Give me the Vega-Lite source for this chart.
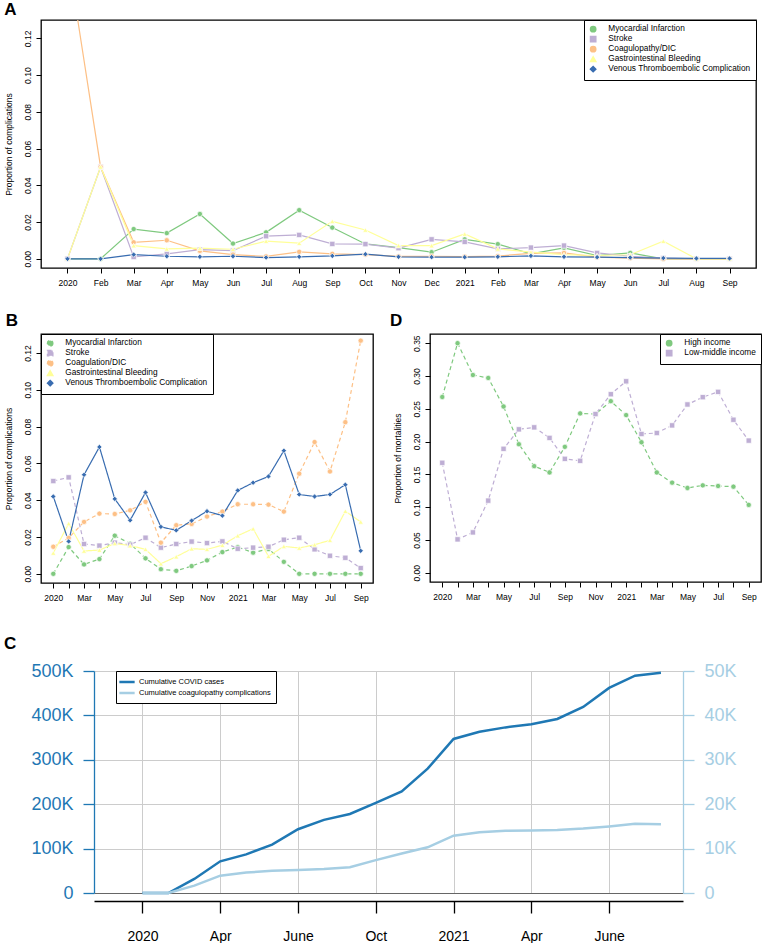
{
  "$schema": "https://vega.github.io/schema/vega-lite/v6.json",
  "background": "white",
  "padding": {"left": 3, "top": -1, "right": 0, "bottom": 0},
  "bounds": "flush",
  "align": "none",
  "spacing": 651,
  "resolve": {"scale": {"color": "independent", "shape": "independent", "strokeDash": "independent"}, "legend": {"color": "independent", "shape": "independent", "strokeDash": "independent"}},
  "config": {
    "font": "Liberation Sans",
    "axis": {"labelFont": "Liberation Sans", "titleFont": "Liberation Sans", "labelColor": "black", "titleColor": "black", "tickColor": "black", "titleFontWeight": "normal", "labelFlush": false, "labelOverlap": false},
    "legend": {"labelFont": "Liberation Sans", "labelColor": "black"},
    "title": {"font": "Liberation Sans", "color": "black", "fontWeight": "bold", "fontSize": 17, "anchor": "start", "frame": "group", "baseline": "alphabetic"}
  },
  "datasets": {
    "monthlyA": [
      {"m": 0, "Myocardial Infarction": 0, "Stroke": 0, "Coagulopathy/DIC": 0.166, "Gastrointestinal Bleeding": 0, "Venous Thromboembolic Complication": 0},
      {"m": 1, "Myocardial Infarction": 0, "Stroke": 0.05, "Coagulopathy/DIC": 0.05, "Gastrointestinal Bleeding": 0.05, "Venous Thromboembolic Complication": 0},
      {"m": 2, "Myocardial Infarction": 0.0162, "Stroke": 0.001, "Coagulopathy/DIC": 0.009, "Gastrointestinal Bleeding": 0.0072, "Venous Thromboembolic Complication": 0.0023},
      {"m": 3, "Myocardial Infarction": 0.014, "Stroke": 0.0027, "Coagulopathy/DIC": 0.0101, "Gastrointestinal Bleeding": 0.0054, "Venous Thromboembolic Complication": 0.0014},
      {"m": 4, "Myocardial Infarction": 0.0244, "Stroke": 0.005, "Coagulopathy/DIC": 0.0043, "Gastrointestinal Bleeding": 0.0058, "Venous Thromboembolic Complication": 0.0011},
      {"m": 5, "Myocardial Infarction": 0.0083, "Stroke": 0.0045, "Coagulopathy/DIC": 0.0023, "Gastrointestinal Bleeding": 0.0052, "Venous Thromboembolic Complication": 0.0014},
      {"m": 6, "Myocardial Infarction": 0.0144, "Stroke": 0.0123, "Coagulopathy/DIC": 0.0013, "Gastrointestinal Bleeding": 0.0096, "Venous Thromboembolic Complication": 0.0007},
      {"m": 7, "Myocardial Infarction": 0.0265, "Stroke": 0.013, "Coagulopathy/DIC": 0.0038, "Gastrointestinal Bleeding": 0.0085, "Venous Thromboembolic Complication": 0.0011},
      {"m": 8, "Myocardial Infarction": 0.017, "Stroke": 0.0081, "Coagulopathy/DIC": 0.0027, "Gastrointestinal Bleeding": 0.0204, "Venous Thromboembolic Complication": 0.0016},
      {"m": 9, "Myocardial Infarction": 0.0081, "Stroke": 0.008, "Coagulopathy/DIC": 0.0023, "Gastrointestinal Bleeding": 0.0157, "Venous Thromboembolic Complication": 0.0025},
      {"m": 10, "Myocardial Infarction": 0.0061, "Stroke": 0.0058, "Coagulopathy/DIC": 0.0013, "Gastrointestinal Bleeding": 0.0072, "Venous Thromboembolic Complication": 0.0011},
      {"m": 11, "Myocardial Infarction": 0.0036, "Stroke": 0.0106, "Coagulopathy/DIC": 0.0014, "Gastrointestinal Bleeding": 0.0072, "Venous Thromboembolic Complication": 0.0009},
      {"m": 12, "Myocardial Infarction": 0.0106, "Stroke": 0.0092, "Coagulopathy/DIC": 0.0012, "Gastrointestinal Bleeding": 0.0135, "Venous Thromboembolic Complication": 0.0009},
      {"m": 13, "Myocardial Infarction": 0.008, "Stroke": 0.0054, "Coagulopathy/DIC": 0.0015, "Gastrointestinal Bleeding": 0.0054, "Venous Thromboembolic Complication": 0.0011},
      {"m": 14, "Myocardial Infarction": 0.0027, "Stroke": 0.0061, "Coagulopathy/DIC": 0.003, "Gastrointestinal Bleeding": 0.0036, "Venous Thromboembolic Complication": 0.0016},
      {"m": 15, "Myocardial Infarction": 0.006, "Stroke": 0.0072, "Coagulopathy/DIC": 0.0032, "Gastrointestinal Bleeding": 0.0023, "Venous Thromboembolic Complication": 0.0011},
      {"m": 16, "Myocardial Infarction": 0.0018, "Stroke": 0.0032, "Coagulopathy/DIC": 0.0009, "Gastrointestinal Bleeding": 0.0018, "Venous Thromboembolic Complication": 0.0009},
      {"m": 17, "Myocardial Infarction": 0.0032, "Stroke": 0.0014, "Coagulopathy/DIC": 0.0004, "Gastrointestinal Bleeding": 0.0022, "Venous Thromboembolic Complication": 0.0007},
      {"m": 18, "Myocardial Infarction": 0, "Stroke": 0.0004, "Coagulopathy/DIC": 0, "Gastrointestinal Bleeding": 0.0096, "Venous Thromboembolic Complication": 0.0004},
      {"m": 19, "Myocardial Infarction": 0, "Stroke": 0, "Coagulopathy/DIC": 0, "Gastrointestinal Bleeding": 0, "Venous Thromboembolic Complication": 0.0002},
      {"m": 20, "Myocardial Infarction": 0, "Stroke": 0, "Coagulopathy/DIC": 0, "Gastrointestinal Bleeding": 0, "Venous Thromboembolic Complication": 0.0002}
    ],
    "monthlyB": [
      {"m": 0, "Myocardial Infarction": 0, "Stroke": 0.0504, "Coagulation/DIC": 0.0147, "Gastrointestinal Bleeding": 0.0113, "Venous Thromboembolic Complication": 0.042},
      {"m": 1, "Myocardial Infarction": 0.0145, "Stroke": 0.0524, "Coagulation/DIC": 0.0195, "Gastrointestinal Bleeding": 0.0273, "Venous Thromboembolic Complication": 0.0176},
      {"m": 2, "Myocardial Infarction": 0.0051, "Stroke": 0.0162, "Coagulation/DIC": 0.0282, "Gastrointestinal Bleeding": 0.0124, "Venous Thromboembolic Complication": 0.0538},
      {"m": 3, "Myocardial Infarction": 0.008, "Stroke": 0.0153, "Coagulation/DIC": 0.0327, "Gastrointestinal Bleeding": 0.0129, "Venous Thromboembolic Complication": 0.0689},
      {"m": 4, "Myocardial Infarction": 0.0207, "Stroke": 0.0169, "Coagulation/DIC": 0.0325, "Gastrointestinal Bleeding": 0.0165, "Venous Thromboembolic Complication": 0.0407},
      {"m": 5, "Myocardial Infarction": 0.0164, "Stroke": 0.0158, "Coagulation/DIC": 0.0345, "Gastrointestinal Bleeding": 0.0153, "Venous Thromboembolic Complication": 0.0291},
      {"m": 6, "Myocardial Infarction": 0.0084, "Stroke": 0.0196, "Coagulation/DIC": 0.0391, "Gastrointestinal Bleeding": 0.0133, "Venous Thromboembolic Complication": 0.0442},
      {"m": 7, "Myocardial Infarction": 0.0025, "Stroke": 0.0142, "Coagulation/DIC": 0.0169, "Gastrointestinal Bleeding": 0.0055, "Venous Thromboembolic Complication": 0.0255},
      {"m": 8, "Myocardial Infarction": 0.0016, "Stroke": 0.0162, "Coagulation/DIC": 0.0264, "Gastrointestinal Bleeding": 0.0093, "Venous Thromboembolic Complication": 0.0236},
      {"m": 9, "Myocardial Infarction": 0.0042, "Stroke": 0.0175, "Coagulation/DIC": 0.0271, "Gastrointestinal Bleeding": 0.0136, "Venous Thromboembolic Complication": 0.0289},
      {"m": 10, "Myocardial Infarction": 0.0073, "Stroke": 0.0167, "Coagulation/DIC": 0.0311, "Gastrointestinal Bleeding": 0.0133, "Venous Thromboembolic Complication": 0.034},
      {"m": 11, "Myocardial Infarction": 0.0118, "Stroke": 0.0176, "Coagulation/DIC": 0.0338, "Gastrointestinal Bleeding": 0.0155, "Venous Thromboembolic Complication": 0.0316},
      {"m": 12, "Myocardial Infarction": 0.0145, "Stroke": 0.0136, "Coagulation/DIC": 0.0378, "Gastrointestinal Bleeding": 0.0207, "Venous Thromboembolic Complication": 0.0453},
      {"m": 13, "Myocardial Infarction": 0.0115, "Stroke": 0.0142, "Coagulation/DIC": 0.0378, "Gastrointestinal Bleeding": 0.0245, "Venous Thromboembolic Complication": 0.0495},
      {"m": 14, "Myocardial Infarction": 0.0135, "Stroke": 0.0147, "Coagulation/DIC": 0.0376, "Gastrointestinal Bleeding": 0.0095, "Venous Thromboembolic Complication": 0.0529},
      {"m": 15, "Myocardial Infarction": 0.0065, "Stroke": 0.0185, "Coagulation/DIC": 0.0338, "Gastrointestinal Bleeding": 0.0149, "Venous Thromboembolic Complication": 0.0669},
      {"m": 16, "Myocardial Infarction": 0, "Stroke": 0.0196, "Coagulation/DIC": 0.0544, "Gastrointestinal Bleeding": 0.014, "Venous Thromboembolic Complication": 0.0431},
      {"m": 17, "Myocardial Infarction": 0, "Stroke": 0.0133, "Coagulation/DIC": 0.0716, "Gastrointestinal Bleeding": 0.0158, "Venous Thromboembolic Complication": 0.042},
      {"m": 18, "Myocardial Infarction": 0, "Stroke": 0.0098, "Coagulation/DIC": 0.0556, "Gastrointestinal Bleeding": 0.0182, "Venous Thromboembolic Complication": 0.0431},
      {"m": 19, "Myocardial Infarction": 0, "Stroke": 0.0087, "Coagulation/DIC": 0.0824, "Gastrointestinal Bleeding": 0.034, "Venous Thromboembolic Complication": 0.0484},
      {"m": 20, "Myocardial Infarction": 0, "Stroke": 0.0031, "Coagulation/DIC": 0.1267, "Gastrointestinal Bleeding": 0.0282, "Venous Thromboembolic Complication": 0.0125}
    ],
    "mortality": [
      {"m": 0, "High income": 0.268, "Low-middle income": 0.1677},
      {"m": 1, "High income": 0.35, "Low-middle income": 0.051},
      {"m": 2, "High income": 0.3015, "Low-middle income": 0.0616},
      {"m": 3, "High income": 0.297, "Low-middle income": 0.11},
      {"m": 4, "High income": 0.2535, "Low-middle income": 0.189},
      {"m": 5, "High income": 0.196, "Low-middle income": 0.2187},
      {"m": 6, "High income": 0.1626, "Low-middle income": 0.2217},
      {"m": 7, "High income": 0.153, "Low-middle income": 0.2056},
      {"m": 8, "High income": 0.192, "Low-middle income": 0.1737},
      {"m": 9, "High income": 0.243, "Low-middle income": 0.1707},
      {"m": 10, "High income": 0.242, "Low-middle income": 0.242},
      {"m": 11, "High income": 0.2616, "Low-middle income": 0.2722},
      {"m": 12, "High income": 0.2404, "Low-middle income": 0.2919},
      {"m": 13, "High income": 0.199, "Low-middle income": 0.2116},
      {"m": 14, "High income": 0.153, "Low-middle income": 0.2131},
      {"m": 15, "High income": 0.1374, "Low-middle income": 0.2247},
      {"m": 16, "High income": 0.1293, "Low-middle income": 0.2566},
      {"m": 17, "High income": 0.1333, "Low-middle income": 0.2677},
      {"m": 18, "High income": 0.1323, "Low-middle income": 0.2758},
      {"m": 19, "High income": 0.1313, "Low-middle income": 0.2333},
      {"m": 20, "High income": 0.1035, "Low-middle income": 0.2015}
    ],
    "cumulative": [
      {"m": 0, "Cumulative COVID cases": 0, "Cumulative coagulopathy complications": 0},
      {"m": 1, "Cumulative COVID cases": 0, "Cumulative coagulopathy complications": 0},
      {"m": 2, "Cumulative COVID cases": 31600, "Cumulative coagulopathy complications": 1650},
      {"m": 3, "Cumulative COVID cases": 71400, "Cumulative coagulopathy complications": 3900},
      {"m": 4, "Cumulative COVID cases": 87000, "Cumulative coagulopathy complications": 4600},
      {"m": 5, "Cumulative COVID cases": 109000, "Cumulative coagulopathy complications": 5000},
      {"m": 6, "Cumulative COVID cases": 143600, "Cumulative coagulopathy complications": 5200},
      {"m": 7, "Cumulative COVID cases": 164700, "Cumulative coagulopathy complications": 5400},
      {"m": 8, "Cumulative COVID cases": 178000, "Cumulative coagulopathy complications": 5800},
      {"m": 9, "Cumulative COVID cases": 203000, "Cumulative coagulopathy complications": 7400},
      {"m": 10, "Cumulative COVID cases": 228600, "Cumulative coagulopathy complications": 8900},
      {"m": 11, "Cumulative COVID cases": 280000, "Cumulative coagulopathy complications": 10300},
      {"m": 12, "Cumulative COVID cases": 347000, "Cumulative coagulopathy complications": 12900},
      {"m": 13, "Cumulative COVID cases": 363000, "Cumulative coagulopathy complications": 13700},
      {"m": 14, "Cumulative COVID cases": 373000, "Cumulative coagulopathy complications": 14000},
      {"m": 15, "Cumulative COVID cases": 380000, "Cumulative coagulopathy complications": 14100},
      {"m": 16, "Cumulative COVID cases": 392000, "Cumulative coagulopathy complications": 14200},
      {"m": 17, "Cumulative COVID cases": 419000, "Cumulative coagulopathy complications": 14500},
      {"m": 18, "Cumulative COVID cases": 462000, "Cumulative coagulopathy complications": 15000},
      {"m": 19, "Cumulative COVID cases": 489500, "Cumulative coagulopathy complications": 15600},
      {"m": 20, "Cumulative COVID cases": 496000, "Cumulative coagulopathy complications": 15500}
    ]
  },
  "vconcat": [
    {
      "vconcat": [
        {
          "width": 715,
          "height": 248,
          "title": {"text": "A", "dx": -36.7, "offset": 1},
          "view": {"stroke": "black", "strokeWidth": 1.3},
          "data": {"name": "monthlyA"},
          "transform": [{"fold": ["Myocardial Infarction", "Stroke", "Coagulopathy/DIC", "Gastrointestinal Bleeding", "Venous Thromboembolic Complication"], "as": ["series", "value"]}],
          "encoding": {
            "x": {"field": "m", "type": "quantitative", "scale": {"domain": [-0.8, 20.8], "nice": false, "zero": false},
              "axis": {"values": [0,1,2,3,4,5,6,7,8,9,10,11,12,13,14,15,16,17,18,19,20], "labelExpr": "['2020','Feb','Mar','Apr','May','Jun','Jul','Aug','Sep','Oct','Nov','Dec','2021','Feb','Mar','Apr','May','Jun','Jul','Aug','Sep'][datum.value]", "domain": false, "grid": false, "tickSize": 5, "labelPadding": 5, "labelFontSize": 8.5, "title": null}},
            "y": {"field": "value", "type": "quantitative", "scale": {"domain": [-0.005, 0.13], "nice": false, "zero": false},
              "axis": {"values": [0, 0.02, 0.04, 0.06, 0.08, 0.1, 0.12], "format": ".2f", "labelAngle": 270, "labelAlign": "center", "labelBaseline": "bottom", "domain": false, "grid": false, "tickSize": 5, "labelPadding": 4, "labelFontSize": 8.5, "title": "Proportion of complications", "titleFontSize": 8.5, "titlePadding": 10}},
            "color": {"field": "series", "type": "nominal",
              "scale": {"domain": ["Myocardial Infarction", "Stroke", "Coagulopathy/DIC", "Gastrointestinal Bleeding", "Venous Thromboembolic Complication"], "range": ["#7FC97F", "#BEAED4", "#FDC086", "#FFFF99", "#386CB0"]},
              "legend": {"title": null, "orient": "top-right", "offset": 0, "strokeColor": "black", "fillColor": "white", "padding": 5, "labelFontSize": 8.3, "labelOffset": 11, "rowPadding": -2.5, "symbolSize": 28}}
          },
          "layer": [
            {"mark": {"type": "line", "strokeWidth": 1.2, "clip": true}},
            {"mark": {"type": "point", "filled": true, "opacity": 1, "size": 28, "stroke": "white", "strokeWidth": 0.7, "clip": true},
              "encoding": {"shape": {"field": "series", "type": "nominal",
                "scale": {"domain": ["Myocardial Infarction", "Stroke", "Coagulopathy/DIC", "Gastrointestinal Bleeding", "Venous Thromboembolic Complication"], "range": ["circle", "square", "circle", "triangle-up", "diamond"]},
                "legend": {"title": null, "orient": "top-right", "offset": 0, "strokeColor": "black", "fillColor": "white", "padding": 5, "labelFontSize": 8.3, "labelOffset": 11, "rowPadding": -2.5, "symbolSize": 28}}}}
          ]
        },
        {
          "hconcat": [
            {
              "width": 332,
              "height": 249,
              "title": {"text": "B", "dx": -35.3, "offset": 4},
              "view": {"stroke": "black", "strokeWidth": 1.3},
              "data": {"name": "monthlyB"},
              "transform": [{"fold": ["Myocardial Infarction", "Stroke", "Coagulation/DIC", "Gastrointestinal Bleeding", "Venous Thromboembolic Complication"], "as": ["series", "value"]}],
              "encoding": {
                "x": {"field": "m", "type": "quantitative", "scale": {"domain": [-0.8, 20.8], "nice": false, "zero": false},
                  "axis": {"values": [0,1,2,3,4,5,6,7,8,9,10,11,12,13,14,15,16,17,18,19,20], "labelExpr": "['2020','','Mar','','May','','Jul','','Sep','','Nov','','2021','','Mar','','May','','Jul','','Sep'][datum.value]", "domain": false, "grid": false, "tickSize": 5, "labelPadding": 5, "labelFontSize": 8.5, "title": null}},
                "y": {"field": "value", "type": "quantitative", "scale": {"domain": [-0.005, 0.1303], "nice": false, "zero": false},
                  "axis": {"values": [0, 0.02, 0.04, 0.06, 0.08, 0.1, 0.12], "format": ".2f", "labelAngle": 270, "labelAlign": "center", "labelBaseline": "bottom", "domain": false, "grid": false, "tickSize": 5, "labelPadding": 4, "labelFontSize": 8.5, "title": "Proportion of complications", "titleFontSize": 8.5, "titlePadding": 10}},
                "color": {"field": "series", "type": "nominal",
                  "scale": {"domain": ["Myocardial Infarction", "Stroke", "Coagulation/DIC", "Gastrointestinal Bleeding", "Venous Thromboembolic Complication"], "range": ["#7FC97F", "#BEAED4", "#FDC086", "#FFFF99", "#386CB0"]},
                  "legend": {"title": null, "orient": "top-left", "offset": 0, "strokeColor": "black", "fillColor": "white", "padding": 5, "labelFontSize": 8.3, "labelOffset": 11, "rowPadding": -2.5, "symbolSize": 28}}
              },
              "layer": [
                {"mark": {"type": "line", "strokeWidth": 1.2},
                  "encoding": {"strokeDash": {"field": "series", "type": "nominal", "legend": null,
                    "scale": {"domain": ["Myocardial Infarction", "Stroke", "Coagulation/DIC", "Gastrointestinal Bleeding", "Venous Thromboembolic Complication"], "range": [[4, 3], [4, 3], [4, 3], [1, 0], [1, 0]]}}}},
                {"mark": {"type": "point", "filled": true, "opacity": 1, "size": 28, "stroke": "white", "strokeWidth": 0.7},
                  "encoding": {"shape": {"field": "series", "type": "nominal",
                    "scale": {"domain": ["Myocardial Infarction", "Stroke", "Coagulation/DIC", "Gastrointestinal Bleeding", "Venous Thromboembolic Complication"], "range": ["circle", "square", "circle", "triangle-up", "diamond"]},
                    "legend": {"title": null, "orient": "top-left", "offset": 0, "strokeColor": "black", "fillColor": "white", "padding": 5, "labelFontSize": 8.3, "labelOffset": 11, "rowPadding": -2.5, "symbolSize": 28}}}}
              ]
            },
            {
              "width": 331,
              "height": 248,
              "title": {"text": "D", "dx": -40, "offset": 4},
              "view": {"stroke": "black", "strokeWidth": 1.3},
              "data": {"name": "mortality"},
              "transform": [{"fold": ["High income", "Low-middle income"], "as": ["series", "value"]}],
              "encoding": {
                "x": {"field": "m", "type": "quantitative", "scale": {"domain": [-0.8, 20.8], "nice": false, "zero": false},
                  "axis": {"values": [0,1,2,3,4,5,6,7,8,9,10,11,12,13,14,15,16,17,18,19,20], "labelExpr": "['2020','','Mar','','May','','Jul','','Sep','','Nov','','2021','','Mar','','May','','Jul','','Sep'][datum.value]", "domain": false, "grid": false, "tickSize": 5, "labelPadding": 5, "labelFontSize": 8.5, "title": null}},
                "y": {"field": "value", "type": "quantitative", "scale": {"domain": [-0.014, 0.364], "nice": false, "zero": false},
                  "axis": {"values": [0, 0.05, 0.1, 0.15, 0.2, 0.25, 0.3, 0.35], "format": ".2f", "labelAngle": 270, "labelAlign": "center", "labelBaseline": "bottom", "domain": false, "grid": false, "tickSize": 5, "labelPadding": 4, "labelFontSize": 8.5, "title": "Proportion of mortalities", "titleFontSize": 8.5, "titlePadding": 10}},
                "color": {"field": "series", "type": "nominal",
                  "scale": {"domain": ["High income", "Low-middle income"], "range": ["#7FC97F", "#BEAED4"]},
                  "legend": {"title": null, "orient": "top-right", "offset": 0, "strokeColor": "black", "fillColor": "white", "padding": 5, "labelFontSize": 8.3, "labelOffset": 11, "rowPadding": -2.5, "symbolSize": 28}}
              },
              "layer": [
                {"mark": {"type": "line", "strokeWidth": 1.2, "strokeDash": [4, 3]}},
                {"mark": {"type": "point", "filled": true, "opacity": 1, "size": 28, "stroke": "white", "strokeWidth": 0.7},
                  "encoding": {"shape": {"field": "series", "type": "nominal",
                    "scale": {"domain": ["High income", "Low-middle income"], "range": ["circle", "square"]},
                    "legend": {"title": null, "orient": "top-right", "offset": 0, "strokeColor": "black", "fillColor": "white", "padding": 5, "labelFontSize": 8.3, "labelOffset": 11, "rowPadding": -2.5, "symbolSize": 28}}}}
              ]
            }
          ],
          "spacing": 57,
          "bounds": "flush",
          "align": "none",
          "resolve": {"scale": {"color": "independent", "shape": "independent", "strokeDash": "independent"}, "legend": {"color": "independent", "shape": "independent", "strokeDash": "independent"}}
        }
      ],
      "spacing": 66,
      "bounds": "flush",
      "align": "none",
      "resolve": {"scale": {"color": "independent", "shape": "independent", "strokeDash": "independent"}, "legend": {"color": "independent", "shape": "independent", "strokeDash": "independent"}}
    },
    {
      "hconcat": [
        {
          "width": 53,
          "height": 10,
          "view": {"stroke": null},
          "data": {"values": []},
          "mark": "point"
        },
        {
          "width": 589,
          "height": 222,
          "title": {"text": "C", "dx": -90, "offset": 9},
          "view": {"stroke": null},
          "data": {"name": "cumulative"},
          "transform": [{"fold": ["Cumulative COVID cases", "Cumulative coagulopathy complications"], "as": ["series", "value"]}],
          "encoding": {
            "x": {"field": "m", "type": "quantitative", "scale": {"domain": [-1.87, 20.85], "nice": false, "zero": false},
              "axis": {"values": [0, 3, 6, 9, 12, 15, 18], "labelExpr": "['2020','Apr','June','Oct','2021','Apr','June'][datum.value / 3]", "grid": true, "gridColor": "#cccccc", "domain": true, "domainColor": "black", "domainWidth": 1.3, "tickColor": "black", "tickSize": 12, "tickWidth": 1.3, "offset": 8, "labelFontSize": 14, "labelPadding": 16, "title": null}},
            "color": {"field": "series", "type": "nominal",
              "scale": {"domain": ["Cumulative COVID cases", "Cumulative coagulopathy complications"], "range": ["#1F78B4", "#A6CEE3"]},
              "legend": {"title": null, "orient": "none", "legendX": 75, "legendY": 0, "symbolType": "M-1.7,0L1.7,0", "symbolStrokeWidth": 2.5, "symbolSize": 81, "labelFontSize": 7.5, "strokeColor": "black", "fillColor": "white", "padding": 5, "rowPadding": 0, "labelOffset": 6}}
          },
          "layer": [
            {
              "transform": [{"filter": "datum.series === 'Cumulative COVID cases'"}],
              "mark": {"type": "line", "strokeWidth": 2.5},
              "encoding": {"y": {"field": "value", "type": "quantitative", "scale": {"domain": [0, 500000], "nice": false},
                "axis": {"orient": "left", "values": [0, 100000, 200000, 300000, 400000, 500000], "labelExpr": "datum.value === 0 ? '0' : (datum.value / 1000) + 'K'", "grid": true, "gridColor": {"condition": {"test": "datum.value === 0", "value": "#666666"}, "value": "#cccccc"}, "domainColor": "#1F78B4", "domainWidth": 1.3, "tickColor": "#1F78B4", "tickWidth": 1.3, "labelColor": "#1F78B4", "labelFontSize": 18, "tickSize": 11, "labelPadding": 10, "title": null}}}
            },
            {
              "transform": [{"filter": "datum.series === 'Cumulative coagulopathy complications'"}],
              "mark": {"type": "line", "strokeWidth": 2.5},
              "encoding": {"y": {"field": "value", "type": "quantitative", "scale": {"domain": [0, 50000], "nice": false},
                "axis": {"orient": "right", "values": [0, 10000, 20000, 30000, 40000, 50000], "labelExpr": "datum.value === 0 ? '0' : (datum.value / 1000) + 'K'", "grid": false, "domainColor": "#A6CEE3", "domainWidth": 1.3, "tickColor": "#A6CEE3", "tickWidth": 1.3, "labelColor": "#A6CEE3", "labelFontSize": 18, "tickSize": 11, "labelPadding": 10, "title": null}}}
            }
          ],
          "resolve": {"scale": {"y": "independent"}}
        }
      ],
      "spacing": 0,
      "bounds": "flush",
      "align": "none"
    }
  ]
}
